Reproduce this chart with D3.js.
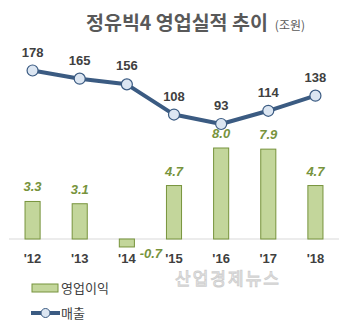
<!DOCTYPE html>
<html><head><meta charset="utf-8">
<script src="https://cdn.jsdelivr.net/npm/d3@7"></script>
<style>body{margin:0;background:#fff;}svg{display:block;font-family:"Noto Sans CJK KR","Noto Sans",sans-serif;}</style>
</head><body>
<svg id="c" width="345" height="331"></svg>
<script>
const categories = ["'12","'13","'14","'15","'16","'17","'18"];
const profit = [3.3, 3.1, -0.7, 4.7, 8.0, 7.9, 4.7];
const sales = [178, 165, 156, 108, 93, 114, 138];
const title = "정유빅4 영업실적 추이";
const unit = "(조원)";
const legendNames = ["영업이익", "매출"];
const watermark = "산업경제뉴스";

const svg = d3.select("#c");
const x = d3.scaleBand().domain(categories).range([9, 339]).paddingInner(0.68).paddingOuter(0.34);
const yBar = d3.scaleLinear().domain([0, 8]).range([239, 148]);
const yLine = d3.scaleLinear().domain([93, 178]).range([124, 70.5]);
const cx = d => x(d) + x.bandwidth() / 2;

// title
const t = svg.append("text").attr("x", 86).attr("y", 30).attr("font-size", 19.5).attr("font-weight", "bold").attr("fill", "#595959");
t.append("tspan").text(title);
t.append("tspan").attr("font-size", 12).attr("font-weight", "normal").attr("dx", 7).text(unit);

// baseline
svg.append("line").attr("x1", 9).attr("x2", 339).attr("y1", yBar(0)).attr("y2", yBar(0)).attr("stroke", "#d9d9d9").attr("stroke-width", 1);

// bars
svg.selectAll("rect.bar").data(profit).join("rect").attr("class", "bar")
  .attr("x", (d, i) => x(categories[i]))
  .attr("width", x.bandwidth())
  .attr("y", d => Math.min(yBar(d), yBar(0)))
  .attr("height", d => Math.abs(yBar(d) - yBar(0)))
  .attr("fill", "#c3d69b").attr("stroke", "#77933c").attr("stroke-width", 1);

// bar labels
svg.selectAll("text.bl").data(profit).join("text").attr("class", "bl")
  .attr("x", (d, i) => d < 0 ? cx(categories[i]) + 24 : cx(categories[i]))
  .attr("y", d => d < 0 ? yBar(0) + 19 : yBar(d) - 10)
  .attr("text-anchor", "middle").attr("font-size", 13).attr("font-weight", "bold").attr("font-style", "italic")
  .attr("font-family", "'Liberation Sans',Arial,sans-serif")
  .attr("fill", "#77933c").text(d => d.toFixed(1));

// x labels
svg.selectAll("text.xl").data(categories).join("text").attr("class", "xl")
  .attr("x", d => cx(d)).attr("y", 263).attr("text-anchor", "middle")
  .attr("font-size", 13).attr("font-weight", "bold").attr("font-family", "'Liberation Sans',Arial,sans-serif")
  .attr("fill", "#404040").text(d => d);

// watermark
svg.append("text").attr("x", 228).attr("y", 285).attr("text-anchor", "middle").attr("font-size", 17)
  .attr("fill", "#fff").attr("stroke", "#cfcfcf").attr("stroke-width", 1).attr("letter-spacing", 2).text(watermark);

// line
const line = d3.line().x((d, i) => cx(categories[i])).y(d => yLine(d));
svg.append("path").datum(sales).attr("d", line).attr("fill", "none").attr("stroke", "#3b5b82").attr("stroke-width", 4).attr("stroke-linejoin", "round");
svg.selectAll("circle.m").data(sales).join("circle").attr("class", "m")
  .attr("cx", (d, i) => cx(categories[i])).attr("cy", d => yLine(d)).attr("r", 5.5)
  .attr("fill", "#dce6f2").attr("stroke", "#3b5b82").attr("stroke-width", 1.2);
svg.selectAll("text.ll").data(sales).join("text").attr("class", "ll")
  .attr("x", (d, i) => cx(categories[i])).attr("y", d => yLine(d) - 14)
  .attr("text-anchor", "middle").attr("font-size", 13).attr("font-weight", "bold")
  .attr("font-family", "'Liberation Sans',Arial,sans-serif").attr("fill", "#404040").text(d => d);

// legend
svg.append("rect").attr("x", 32).attr("y", 284).attr("width", 26).attr("height", 8).attr("fill", "#c3d69b").attr("stroke", "#77933c").attr("stroke-width", 1);
svg.append("text").attr("x", 61).attr("y", 293).attr("font-size", 13).attr("fill", "#404040").text(legendNames[0]);
svg.append("line").attr("x1", 31).attr("x2", 60).attr("y1", 313).attr("y2", 313).attr("stroke", "#3b5b82").attr("stroke-width", 4);
svg.append("circle").attr("cx", 45.5).attr("cy", 313).attr("r", 4.5).attr("fill", "#dce6f2").attr("stroke", "#3b5b82").attr("stroke-width", 1);
svg.append("text").attr("x", 61).attr("y", 318).attr("font-size", 13).attr("fill", "#404040").text(legendNames[1]);
</script>
</body></html>
